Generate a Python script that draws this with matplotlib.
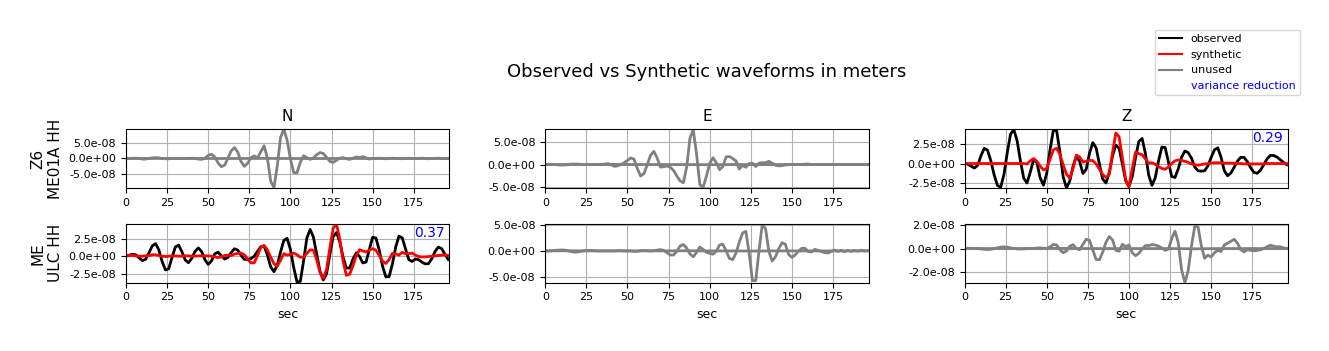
import matplotlib
matplotlib.use("Agg")
import matplotlib.pyplot as plt
import numpy as np
from matplotlib.lines import Line2D
from matplotlib.ticker import FormatStrFormatter, MultipleLocator

SUPTITLE_SIZE = 13
TITLE_SIZE = 11
LABEL_SIZE = 11
TICK_SIZE = 8
LEGEND_SIZE = 8
SCALE = 1e-8  # amplitudes below are in units of 1e-8 m

# sample times (sec)
TIME = np.arange(0, 197, 2)
UNUSED_SYN_TIME = np.arange(0, 197, 14)

COMPONENTS = ["N", "E", "Z"]
STATIONS = ["Z6\nME01A HH", "ME\nULC HH"]

# --- station Z6 ME01A ---
N_TOP_OBS = [
    0.0, 0.0, 0.1, 0.1, 0.0, -0.2, -0.2, 0.0, 0.2, 0.3,
    0.2, 0.0, -0.1, -0.1, 0.0, 0.0, 0.0, 0.0, 0.0, 0.0,
    0.1, 0.0, -0.2, -0.3, 0.1, 1.0, 1.4, 0.5, -1.45, -2.7,
    -2.2, 0.1, 2.5, 3.6, 2.05, -1.05, -2.6, -1.6, 0.3, 0.85,
    0.2, 2.2, 4.2, 0.1, -7.4, -9.6, -2.5, 6.9, 9.6, 6.0,
    -0.1, -4.65, -4.7, -1.25, 0.9, 0.3, -0.3, 0.2, 1.25, 1.95,
    1.65, 0.35, -0.95, -1.3, -0.6, 0.1, 0.3, -0.1, -0.3, 0.1,
    0.5, 0.3, 0.6, 0.2, -0.2, 0.0, 0.0, 0.1, 0.0, -0.1,
    0.0, 0.1, 0.0, 0.0, -0.1, 0.0, 0.1, 0.0, 0.0, 0.0,
    0.1, 0.0, -0.1, 0.0, 0.0, 0.1, 0.0, 0.0, 0.0,
]
N_TOP_SYN = [0.0, 0.0, 0.03, 0.0, 0.0, 0.0, 0.03, 0.0, -0.03, 0.0, 0.0, 0.0, 0.0, 0.0, 0.0]

E_TOP_OBS = [
    0.0, 0.0, 0.0, 0.0, -0.1, -0.1, -0.1, 0.0, 0.1, 0.1,
    0.1, 0.0, 0.0, 0.0, 0.0, 0.0, 0.0, 0.0, 0.1, 0.2,
    0.0, -0.4, -0.3, 0.0, 0.4, 0.9, 1.45, 1.17, -0.9, -2.54,
    -2.0, -0.07, 2.0, 2.9, 1.46, -0.55, -0.5, -0.3, -0.6, -1.3,
    -2.5, -3.6, -4.0, -0.55, 5.8, 7.6, 2.3, -4.4, -5.0, -2.6,
    0.25, 1.5, 0.4, -1.13, -0.43, 1.69, 1.75, 1.3, 0.8, -1.0,
    -0.2, -0.6, 0.2, 0.3, -0.45, 0.3, 0.4, 0.4, 0.7, 0.3,
    -0.15, -0.3, -0.25, -0.1, 0.0, 0.0, 0.0, 0.0, 0.0, 0.1,
    0.1, 0.0, 0.0, 0.0, 0.0, 0.0, 0.0, 0.0, 0.0, 0.0,
    0.0, 0.0, 0.0, 0.0, 0.0, 0.0, 0.0, 0.0, 0.0,
]
E_TOP_SYN = [0.0, 0.0, 0.0, 0.03, 0.0, 0.0, 0.0, -0.03, 0.0, 0.0, 0.0, 0.0, 0.0, 0.0, 0.0]

Z_TOP_OBS = [
    0.0, -0.1, -0.35, -0.6, -0.23, 1.03, 2.0, 1.74, 0.35, -1.47,
    -2.87, -3.1, -1.4, 1.45, 3.85, 4.43, 2.95, 0.33, -1.92, -2.55,
    -1.12, 0.51, 0.12, -1.87, -2.84, -1.27, 1.78, 4.35, 4.3, 1.52,
    -1.75, -3.2, -2.3, -0.35, 0.94, 0.26, -1.3, -0.75, 1.34, 2.74,
    2.06, -0.03, -2.04, -2.54, -1.2, 0.98, 2.41, 1.99, -0.06, -2.25,
    -2.97, -1.69, 0.78, 2.89, 3.28, 1.31, -1.52, -2.85, -1.86, 0.37,
    2.15, 2.1, 0.2, -1.7, -1.83, -0.68, 0.83, 1.64, 1.43, 0.72,
    -0.45, -0.95, -1.0, -0.95, -0.3, 0.8, 1.8, 2.05, 0.83, -0.95,
    -1.6, -1.24, -0.48, 0.32, 0.82, 0.79, 0.24, -0.55, -1.16, -1.28,
    -0.87, -0.14, 0.61, 1.06, 1.05, 0.85, 0.5, 0.15, -0.15,
]
Z_TOP_SYN = [
    0.0, 0.0, 0.0, 0.0, 0.0, 0.0, 0.0, 0.0, 0.0, 0.0,
    0.0, 0.0, 0.0, 0.0, 0.0, 0.0, 0.0, 0.0, 0.0, -0.05,
    0.35, 0.65, 0.3, -0.36, -0.83, -0.64, 0.56, 1.78, 2.0, 1.19,
    -0.16, -1.41, -1.9, -0.65, 1.1, 0.86, 0.2, 0.3, 0.43, 0.38,
    -0.04, -0.73, -1.42, -1.84, -1.45, 1.4, 4.0, 3.5, 0.75, -2.11,
    -3.06, -0.7, 1.5, 1.3, 1.15, 0.6, 0.05, 0.1, -0.1, -0.4,
    -0.65, -0.75, -0.45, 0.0, 0.35, 0.48, 0.4, 0.3, 0.15, -0.05,
    -0.15, -0.22, -0.15, -0.05, 0.0, 0.05, 0.1, 0.1, 0.1, 0.05,
    0.05, 0.05, 0.05, 0.0, 0.0, -0.05, -0.05, -0.05, -0.05, -0.05,
    -0.05, -0.05, 0.0, 0.0, 0.0, 0.0, 0.0, 0.0, 0.0,
]

# --- station ME ULC ---
N_BOT_OBS = [
    0.0, 0.15, 0.27, 0.2, -0.25, -0.63, -0.43, 0.48, 1.47, 1.79,
    0.89, -0.78, -1.96, -1.78, -0.17, 1.3, 1.58, 0.65, -0.54, -0.93,
    -0.3, 0.68, 1.18, 0.66, -0.5, -1.17, -0.68, 0.34, 0.57, 0.05,
    -0.4, -0.18, 0.54, 1.06, 0.86, 0.12, -0.45, -0.45, -0.35, 0.0,
    0.7, 1.35, 1.45, 0.17, -1.52, -2.2, -1.28, 0.6, 2.25, 2.53,
    0.97, -1.62, -3.65, -3.6, -0.69, 2.58, 3.81, 2.7, 0.28, -2.17,
    -3.39, -2.48, 0.26, 2.8, 3.36, 2.05, -0.11, -1.66, -1.7, -0.43,
    0.46, -0.03, -0.96, -0.84, 0.98, 2.7, 2.58, 0.89, -1.38, -2.93,
    -2.92, -1.14, 1.28, 2.85, 2.61, 1.05, -0.49, -0.75, -0.4, -0.5,
    -0.85, -1.1, -1.06, -0.35, 0.69, 1.3, 1.06, 0.25, -0.47,
]
N_BOT_SYN = [
    0.1, 0.1, 0.1, 0.05, 0.0, 0.0, 0.05, 0.1, 0.2, 0.2,
    0.1, 0.0, -0.05, 0.0, 0.05, 0.05, 0.0, 0.0, 0.05, 0.05,
    0.0, 0.0, 0.05, 0.05, 0.05, 0.05, 0.0, -0.1, -0.2, -0.1,
    0.1, 0.15, 0.1, 0.3, 0.4, 0.45, 0.2, -0.42, -0.95, -0.94,
    0.09, 1.27, 1.53, 0.89, -0.14, -1.08, -1.42, -0.58, 0.37, 0.15,
    0.25, 0.45, 0.2, -0.15, -0.1, 0.4, 0.9, 0.86, -0.52, -2.33,
    -3.16, -1.84, 1.2, 3.96, 4.6, 2.47, -0.67, -2.72, -2.57, -1.4,
    0.04, 0.92, 0.75, 0.6, 0.85, 1.08, 0.85, 0.1, -0.7, -1.04,
    -0.5, 0.4, 0.35, 0.15, 0.55, 0.35, 0.35, 0.45, 0.15, -0.05,
    -0.1, -0.1, -0.05, 0.0, 0.05, 0.1, 0.15, 0.2, 0.1,
]

E_BOT_OBS = [
    0.0, 0.0, 0.05, 0.1, 0.15, 0.2, 0.15, 0.0, -0.15, -0.25,
    -0.2, -0.05, 0.05, 0.1, 0.1, 0.05, 0.0, 0.0, 0.0, 0.0,
    0.0, 0.0, 0.05, 0.05, 0.0, 0.0, 0.0, -0.1, -0.05, 0.05,
    0.1, 0.05, 0.0, 0.05, 0.15, 0.25, 0.1, -0.35, -0.8, -0.8,
    -0.1, 0.95, 1.25, 0.55, -0.6, -1.15, -0.3, 0.75, 0.3, -0.25,
    -0.5, -0.65, -0.05, 1.15, 1.29, 0.01, -1.47, -1.7, -0.42, 1.7,
    3.5, 3.8, -0.44, -5.8, -5.8, 0.07, 5.2, 4.3, -0.1, -1.98,
    -1.14, 0.43, 1.6, 1.31, -0.69, -1.26, -0.78, -0.04, 0.5, 0.5,
    -0.15, -0.2, 0.3, 0.1, -0.15, -0.35, -0.4, -0.1, 0.15, -0.1,
    0.1, -0.15, 0.1, -0.1, 0.1, -0.05, 0.1, 0.0, 0.05,
]
E_BOT_SYN = [0.0, 0.03, 0.0, 0.0, 0.0, 0.0, 0.03, 0.0, 0.0, -0.03, 0.0, 0.0, 0.0, 0.0, 0.0]

Z_BOT_OBS = [
    0.02, 0.02, 0.02, 0.0, 0.0, -0.03, -0.06, -0.08, -0.06, 0.0,
    0.06, 0.12, 0.14, 0.12, 0.06, 0.0, -0.03, -0.04, -0.03, 0.0,
    0.0, 0.02, 0.04, 0.05, 0.03, 0.0, 0.15, 0.34, 0.3, -0.1,
    -0.35, -0.2, 0.2, 0.32, 0.0, -0.1, 0.35, 0.78, 0.69, -0.12,
    -0.91, -0.94, -0.32, 0.52, 1.01, 0.72, -0.14, -0.23, 0.36, 0.15,
    0.3, -0.35, -0.6, -0.4, -0.05, 0.25, 0.25, 0.33, 0.3, 0.2,
    0.05, -0.15, -0.04, 0.84, 1.46, 0.49, -1.78, -2.86, -1.87, 0.2,
    1.85, 1.82, 0.24, -0.82, -0.55, -0.7, -0.35, -0.15, -0.25, 0.3,
    0.45, 0.6, 0.78, 0.45, -0.1, -0.28, -0.1, -0.15, -0.2, -0.15,
    -0.1, 0.0, 0.15, 0.28, 0.2, 0.14, 0.15, 0.05, 0.02,
]
Z_BOT_SYN = [0.0, 0.0, 0.0, 0.0, 0.02, 0.0, 0.0, 0.0, 0.0, 0.0, -0.02, 0.0, 0.0, 0.0, 0.0]

# y limits and tick spacing (1e-8 m) per panel, rows = stations
Y_LIMITS = [
    [(-9.7, 9.7), (-5.15, 7.8), (-3.2, 4.52)],
    [(-3.77, 4.62), (-6.2, 5.3), (-2.86, 2.08)],
]
Y_STEPS = [[5, 5, 2.5], [2.5, 5, 2.0]]

# variance reduction (None = component not used in inversion)
VARIANCE_REDUCTION = [[None, None, 0.29], [0.37, None, None]]


def draw_panel(ax, obs, syn, syn_time, used, vr, ylim, step):
    obs = np.asarray(obs) * SCALE
    syn = np.asarray(syn) * SCALE
    if used:
        ax.plot(TIME, obs, color="black", lw=2)
        ax.plot(syn_time, syn, color="red", lw=2)
    else:
        ax.plot(TIME, obs, color="gray", lw=2)
        ax.plot(syn_time, syn, color="gray", lw=2)
    if vr is not None:
        ax.text(0.985, 0.84, f"{vr:.2f}", color="blue", fontsize=10,
                ha="right", va="center", transform=ax.transAxes)
    ax.set_xlim(0, 196.6)
    ax.set_ylim(ylim[0] * SCALE, ylim[1] * SCALE)
    ax.yaxis.set_major_locator(MultipleLocator(step * SCALE))
    ax.yaxis.set_major_formatter(FormatStrFormatter("%.1e"))
    ax.xaxis.set_major_locator(MultipleLocator(25))
    ax.tick_params(labelsize=TICK_SIZE)
    ax.grid(True)


def main():
    fig, axes = plt.subplots(2, 3, figsize=(13.29, 3.51), dpi=100)
    fig.subplots_adjust(left=0.0948, right=0.969, bottom=0.1946, top=0.6325,
                        wspace=0.297, hspace=0.606)

    traces = [
        [(N_TOP_OBS, N_TOP_SYN, False), (E_TOP_OBS, E_TOP_SYN, False), (Z_TOP_OBS, Z_TOP_SYN, True)],
        [(N_BOT_OBS, N_BOT_SYN, True), (E_BOT_OBS, E_BOT_SYN, False), (Z_BOT_OBS, Z_BOT_SYN, False)],
    ]

    for row in range(2):
        for col in range(3):
            obs, syn, used = traces[row][col]
            syn_time = TIME if len(syn) == len(TIME) else UNUSED_SYN_TIME
            draw_panel(axes[row, col], obs, syn, syn_time, used,
                       VARIANCE_REDUCTION[row][col], Y_LIMITS[row][col], Y_STEPS[row][col])
        axes[row, 0].set_ylabel(STATIONS[row], fontsize=LABEL_SIZE)

    for col, comp in enumerate(COMPONENTS):
        axes[0, col].set_title(comp, fontsize=TITLE_SIZE)
        axes[1, col].set_xlabel("sec", fontsize=9)

    fig.suptitle("Observed vs Synthetic waveforms in meters", fontsize=SUPTITLE_SIZE,
                 x=0.532, y=0.795, va="center")

    handles = [
        Line2D([], [], color="black"),
        Line2D([], [], color="red"),
        Line2D([], [], color="gray"),
        Line2D([], [], color="none"),
    ]
    labels = ["observed", "synthetic", "unused", "variance reduction"]
    fig.legend(handles, labels, loc="upper right", bbox_to_anchor=(0.978, 0.915),
               borderaxespad=0, fontsize=LEGEND_SIZE,
               labelcolor=["black", "black", "black", "blue"])

    fig.savefig("out.png", dpi=100)
    plt.close(fig)


if __name__ == "__main__":
    main()
